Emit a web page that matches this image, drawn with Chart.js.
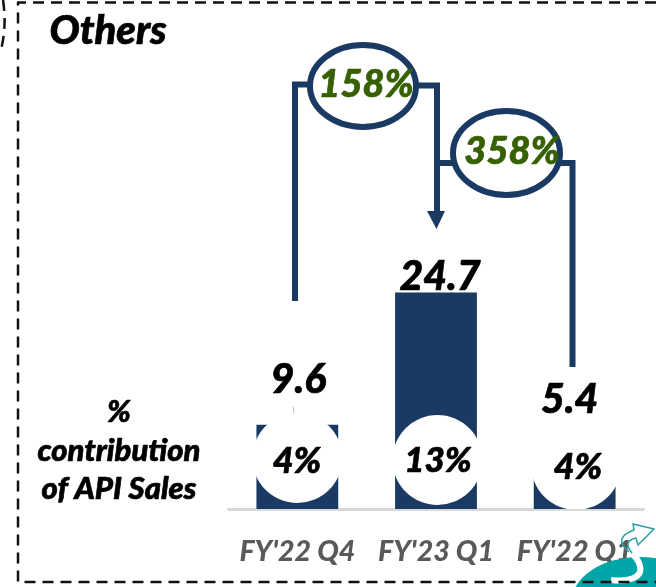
<!DOCTYPE html>
<html><head><meta charset="utf-8">
<style>html,body{margin:0;padding:0;background:#fff}canvas{display:block}</style>
<script src="https://cdn.jsdelivr.net/npm/chart.js@4"></script>
</head><body><canvas id="c" width="656" height="587"></canvas>
<script>
const categories = ["FY'22 Q4", "FY'23 Q1", "FY'22 Q1"];
const salesValues = [9.6, 24.7, 5.4];
const apiShareLabels = ["4%", "13%", "4%"];
const growthLabels = ["158%", "358%"];
const sideLabelLines = ["%", "contribution", "of API Sales"];
const panelTitle = "Others";

const NAVY = '#1a3a63', GREEN = '#376000', FONT = 'Lato, "Open Sans", sans-serif';

function txt(ctx, s, x, y, size, color) {
  ctx.font = `italic 900 ${size}px ${FONT}`;
  ctx.fillStyle = color;
  ctx.strokeStyle = color;
  ctx.lineWidth = 0.7;
  ctx.lineJoin = 'round';
  ctx.textAlign = 'center';
  ctx.textBaseline = 'middle';
  ctx.fillText(s, x, y);
  ctx.strokeText(s, x, y);
}
function poly(ctx, pts, w, color) {
  ctx.beginPath();
  pts.forEach((p, i) => i ? ctx.lineTo(p[0], p[1]) : ctx.moveTo(p[0], p[1]));
  ctx.lineWidth = w; ctx.strokeStyle = color; ctx.lineJoin = 'miter'; ctx.stroke();
}
function ring(ctx, x, y, rx, ry) {
  ctx.beginPath(); ctx.ellipse(x, y, rx, ry, 0, 0, Math.PI * 2);
  ctx.fillStyle = '#fff'; ctx.fill();
  ctx.lineWidth = 6; ctx.strokeStyle = NAVY; ctx.stroke();
}

const overlay = {
  id: 'overlay',
  afterDatasetsDraw(chart) {
    const ctx = chart.ctx, xs = chart.scales.x, ys = chart.scales.y;
    ctx.save();
    // white discs cut into the bars
    const discs = [[0, 458], [1, 460], [2, 465]];
    discs.forEach(([i, cy]) => {
      ctx.beginPath(); ctx.arc(xs.getPixelForValue(i) + (i ? 1.5 : 0), cy, 45, 0, Math.PI * 2);
      ctx.fillStyle = '#fff'; ctx.fill();
    });
    poly(ctx, [[293, 407], [294, 413]], 1, '#bbbbbb');
    // axis line repaint over discs
    ctx.fillStyle = '#d9d9d9'; ctx.fillRect(228, 509, 416, 2);

    // connectors
    poly(ctx, [[295, 301], [295, 84.5], [310, 84.5]], 6, NAVY);
    poly(ctx, [[415, 85.5], [437, 85.5], [437, 213]], 6, NAVY);
    poly(ctx, [[437, 163], [455, 163]], 6, NAVY);
    poly(ctx, [[560, 163], [572.5, 163], [572.5, 367]], 6, NAVY);
    ctx.beginPath(); ctx.moveTo(427, 211); ctx.lineTo(445, 211); ctx.lineTo(436.5, 229); ctx.closePath();
    ctx.fillStyle = NAVY; ctx.fill();
    ring(ctx, 363, 86, 53, 41);
    ring(ctx, 506.5, 153, 53.5, 42);
    txt(ctx, growthLabels[0], 366, 85, 38, GREEN);
    txt(ctx, growthLabels[1], 512, 152, 38, GREEN);

    // values
    const off = [45, 16, 62];
    salesValues.forEach((v, i) => {
      const dx = [1, 4, -5][i];
      txt(ctx, v.toFixed(1), xs.getPixelForValue(i) + dx, ys.getPixelForValue(v) - off[i], 41, '#000');
    });
    const shareX = [297, 438, 578], shareY = [461, 461, 467], shareSize = [36, 35, 36];
    apiShareLabels.forEach((s, i) => txt(ctx, s, shareX[i], shareY[i], shareSize[i], '#000'));

    txt(ctx, panelTitle, 108, 31, 40, '#000');
    const sy = [412, 451, 489];
    sideLabelLines.forEach((s, i) => txt(ctx, s, 119, sy[i], 31, '#000'));

    // corner logo
    ctx.save();
    ctx.beginPath(); ctx.rect(560, 515, 96, 72); ctx.clip();
    ctx.beginPath(); ctx.ellipse(640, 601, 68, 44, 0, 0, Math.PI * 2);
    ctx.fillStyle = '#00a5a8'; ctx.fill();
    ctx.beginPath(); ctx.moveTo(611, 580);
    ctx.bezierCurveTo(628, 582, 643, 578, 640, 566);
    ctx.quadraticCurveTo(638, 558, 630, 552);
    ctx.lineWidth = 6; ctx.strokeStyle = '#fff'; ctx.lineCap = 'butt'; ctx.stroke();
    ctx.beginPath();
    ctx.moveTo(629, 552); ctx.quadraticCurveTo(612, 538, 634, 530);
    ctx.lineTo(633, 524); ctx.lineTo(654, 529); ctx.lineTo(638, 545); ctx.lineTo(636, 538);
    ctx.quadraticCurveTo(622, 541, 632, 553);
    ctx.lineWidth = 1.5; ctx.strokeStyle = '#2a9fa5'; ctx.stroke();
    ctx.restore();

    // dashed frame
    ctx.setLineDash([11, 7]);
    ctx.lineWidth = 2.5; ctx.strokeStyle = '#111';
    ctx.beginPath(); ctx.moveTo(656, 2.5); ctx.lineTo(18, 2.5); ctx.lineTo(18, 582); ctx.lineTo(656, 582); ctx.stroke();
    ctx.beginPath(); ctx.moveTo(3, 0); ctx.quadraticCurveTo(7, 25, 1, 50); ctx.stroke();
    ctx.setLineDash([]);
    ctx.restore();
  }
};

new Chart(document.getElementById('c'), {
  type: 'bar',
  data: {
    labels: categories,
    datasets: [{ data: salesValues, backgroundColor: NAVY, borderWidth: 0,
                 barPercentage: 0.59, categoryPercentage: 1 }]
  },
  options: {
    responsive: false, animation: false,
    layout: { padding: { left: 228, right: 12, top: 246, bottom: 0 } },
    plugins: { legend: { display: false }, tooltip: { enabled: false } },
    scales: {
      x: {
        grid: { display: false, drawTicks: false },
        border: { color: '#d9d9d9', width: 2 },
        afterFit(s) { s.height = 78; s.paddingLeft = 0; s.paddingRight = 0; },
        ticks: { color: '#595959', padding: 26, maxRotation: 0, autoSkip: false,
                 font: { family: FONT, size: 28.5, style: 'italic', weight: '900' } }
      },
      y: { display: false, min: 0, max: 30 }
    }
  },
  plugins: [overlay]
});
</script></body></html>
